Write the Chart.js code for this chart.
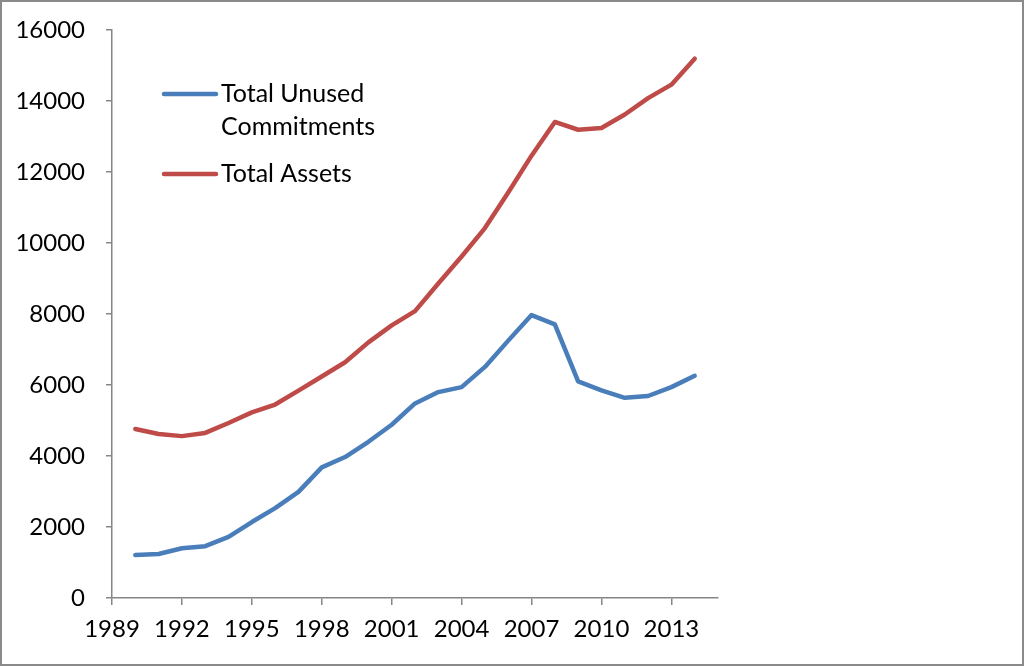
<!DOCTYPE html>
<html>
<head>
<meta charset="utf-8">
<script src="https://cdn.jsdelivr.net/npm/chart.js@4.4.1/dist/chart.umd.min.js"></script>
<style>
  body { margin: 0; background: #fff; }
  #wrap { position: relative; width: 1024px; height: 666px; }
  #frame { position: absolute; left: 0; top: 0; width: 1024px; height: 666px; box-sizing: border-box; border: 2px solid #8a8a8a; pointer-events: none; }
</style>
</head>
<body>
<div id="wrap">
  <canvas id="grafico" width="1024" height="666"></canvas>
  <div id="frame"></div>
</div>
<script>
// Years and series values
const anos = [1990, 1991, 1992, 1993, 1994, 1995, 1996, 1997, 1998, 1999, 2000, 2001, 2002,
  2003, 2004, 2005, 2006, 2007, 2008, 2009, 2010, 2011, 2012, 2013, 2014];
const compromissos = [1210, 1240, 1400, 1460, 1720, 2140, 2530, 2990, 3680, 3970, 4400, 4880, 5480,
  5800, 5940, 6510, 7250, 7970, 7710, 6100, 5850, 5640, 5690, 5940, 6260];
const ativos = [4760, 4620, 4560, 4650, 4930, 5230, 5450, 5840, 6240, 6640, 7200, 7680, 8080,
  8860, 9620, 10420, 11420, 12460, 13410, 13190, 13240, 13620, 14080, 14460, 15190];
const nomesSeries = ['Total Unused Commitments', 'Total Assets'];
const coresSeries = ['#4a7ebb', '#be4b48'];
const ticksX = [1989, 1992, 1995, 1998, 2001, 2004, 2007, 2010, 2013];
const ticksY = [0, 2000, 4000, 6000, 8000, 10000, 12000, 14000, 16000];

const fonte = 'Lato, "Open Sans", sans-serif';
const corEixo = '#868686';

function pontos(valores) {
  return anos.map((a, i) => ({ x: a, y: valores[i] }));
}

// Legend drawn inside the plot, upper left, with word wrap
const legendaInterna = {
  id: 'legendaInterna',
  afterDraw(chart) {
    const ctx = chart.ctx;
    const posY = [94, 174];
    ctx.save();
    ctx.font = '25px ' + fonte;
    ctx.fillStyle = '#000';
    ctx.textBaseline = 'middle';
    chart.data.datasets.forEach((ds, i) => {
      ctx.strokeStyle = ds.borderColor;
      ctx.lineWidth = 4.5;
      ctx.lineCap = 'round';
      ctx.beginPath();
      ctx.moveTo(164, posY[i]);
      ctx.lineTo(216, posY[i]);
      ctx.stroke();
      // wrap label into lines of at most 170px
      const palavras = ds.label.split(' ');
      const linhas = [];
      let atual = '';
      palavras.forEach(p => {
        const teste = atual ? atual + ' ' + p : p;
        if (atual && ctx.measureText(teste).width > 170) {
          linhas.push(atual);
          atual = p;
        } else {
          atual = teste;
        }
      });
      linhas.push(atual);
      linhas.forEach((l, j) => ctx.fillText(l, 221, posY[i] + j * 33));
    });
    ctx.restore();
  }
};

const grafico = new Chart(document.getElementById('grafico').getContext('2d'), {
  type: 'scatter',
  data: {
    datasets: [
      { label: nomesSeries[0], data: pontos(compromissos), borderColor: coresSeries[0] },
      { label: nomesSeries[1], data: pontos(ativos), borderColor: coresSeries[1] },
    ].map(ds => Object.assign(ds, {
      showLine: true,
      borderWidth: 4.5,
      pointRadius: 0,
      tension: 0,
      fill: false,
      borderCapStyle: 'round',
      borderJoinStyle: 'round',
    })),
  },
  options: {
    responsive: false,
    animation: false,
    layout: { padding: { left: 0, right: 306, top: 30, bottom: 0 } },
    plugins: { legend: { display: false }, tooltip: { enabled: false } },
    scales: {
      x: {
        type: 'linear',
        min: 1989,
        max: 2015,
        afterBuildTicks: (s) => { s.ticks = ticksX.map(v => ({ value: v })); },
        afterFit: (s) => { s.height = 68; s.paddingLeft = 0; s.paddingRight = 0; },
        border: { display: true, color: corEixo, width: 1.5 },
        grid: { display: true, drawOnChartArea: false, drawTicks: true, tickLength: 7, color: corEixo, lineWidth: 1.5 },
        ticks: { color: '#000', font: { family: fonte, size: 24 }, padding: 10, maxRotation: 0, autoSkip: false, callback: (v) => String(v) },
      },
      y: {
        min: 0,
        max: 16000,
        afterBuildTicks: (s) => { s.ticks = ticksY.map(v => ({ value: v })); },
        afterFit: (s) => { s.width = 112; s.paddingTop = 0; s.paddingBottom = 0; },
        border: { display: true, color: corEixo, width: 1.5 },
        grid: { display: true, drawOnChartArea: false, drawTicks: true, tickLength: 6, color: corEixo, lineWidth: 1.5 },
        ticks: { color: '#000', font: { family: fonte, size: 24 }, padding: 21, callback: (v) => String(v) },
      },
    },
  },
  plugins: [legendaInterna],
});
</script>
</body>
</html>
